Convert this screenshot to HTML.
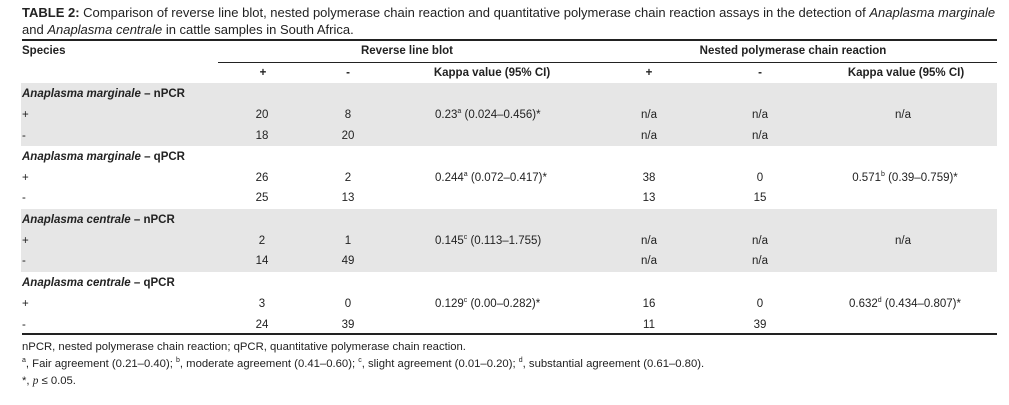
<!DOCTYPE html>
<html><head><meta charset="utf-8"><style>
body{margin:0;width:1009px;height:405px;background:#fff;position:relative;font-family:"Liberation Sans",sans-serif;color:#222;overflow:hidden}
.t{position:absolute;white-space:nowrap;font-size:11.5px;line-height:13px}
.c{transform:translateX(-50%)}
.b{font-weight:bold}
.band{position:absolute;left:21px;width:976px;background:#e6e6e6}
.ln{position:absolute;background:#222}
sup{font-size:7px;line-height:0}
</style></head><body>
<div class="t" style="left:22px;top:5px;font-size:13px;line-height:15px"><b>TABLE 2:</b> Comparison of reverse line blot, nested polymerase chain reaction and quantitative polymerase chain reaction assays in the detection of <i>Anaplasma marginale</i></div>
<div class="t" style="left:22px;top:22px;font-size:13px;line-height:15px">and <i>Anaplasma centrale</i> in cattle samples in South Africa.</div>
<div class="ln" style="left:22px;top:39px;width:975px;height:2px"></div>
<div class="t b" style="left:22px;top:45px">Species</div>
<div class="t b c" style="left:407px;top:45px">Reverse line blot</div>
<div class="t b c" style="left:793px;top:45px">Nested polymerase chain reaction</div>
<div class="ln" style="left:218px;top:62px;width:779px;height:1px"></div>
<div class="t b c" style="left:263px;top:67px">+</div>
<div class="t b c" style="left:348px;top:67px">-</div>
<div class="t b c" style="left:492px;top:67px">Kappa value (95% CI)</div>
<div class="t b c" style="left:649px;top:67px">+</div>
<div class="t b c" style="left:760px;top:67px">-</div>
<div class="t b c" style="left:906px;top:67px">Kappa value (95% CI)</div>

<div class="band" style="top:83px;height:63px"></div>
<div class="band" style="top:209px;height:63px"></div>

<div class="t b" style="left:22px;top:88px"><i>Anaplasma marginale</i> – nPCR</div>
<div class="t" style="left:22px;top:109px">+</div>
<div class="t c" style="left:262px;top:109px">20</div>
<div class="t c" style="left:348px;top:109px">8</div>
<div class="t" style="left:435px;top:109px">0.23<sup>a</sup> (0.024–0.456)*</div>
<div class="t c" style="left:649px;top:109px">n/a</div>
<div class="t c" style="left:760px;top:109px">n/a</div>
<div class="t c" style="left:903px;top:109px">n/a</div>
<div class="t" style="left:22px;top:130px">-</div>
<div class="t c" style="left:262px;top:130px">18</div>
<div class="t c" style="left:348px;top:130px">20</div>
<div class="t c" style="left:649px;top:130px">n/a</div>
<div class="t c" style="left:760px;top:130px">n/a</div>

<div class="t b" style="left:22px;top:151px"><i>Anaplasma marginale</i> – qPCR</div>
<div class="t" style="left:22px;top:172px">+</div>
<div class="t c" style="left:262px;top:172px">26</div>
<div class="t c" style="left:348px;top:172px">2</div>
<div class="t" style="left:435px;top:172px">0.244<sup>a</sup> (0.072–0.417)*</div>
<div class="t c" style="left:649px;top:172px">38</div>
<div class="t c" style="left:760px;top:172px">0</div>
<div class="t c" style="left:905px;top:172px">0.571<sup>b</sup> (0.39–0.759)*</div>
<div class="t" style="left:22px;top:192px">-</div>
<div class="t c" style="left:262px;top:192px">25</div>
<div class="t c" style="left:348px;top:192px">13</div>
<div class="t c" style="left:649px;top:192px">13</div>
<div class="t c" style="left:760px;top:192px">15</div>

<div class="t b" style="left:22px;top:214px"><i>Anaplasma centrale</i> – nPCR</div>
<div class="t" style="left:22px;top:235px">+</div>
<div class="t c" style="left:262px;top:235px">2</div>
<div class="t c" style="left:348px;top:235px">1</div>
<div class="t" style="left:435px;top:235px">0.145<sup>c</sup> (0.113–1.755)</div>
<div class="t c" style="left:649px;top:235px">n/a</div>
<div class="t c" style="left:760px;top:235px">n/a</div>
<div class="t c" style="left:903px;top:235px">n/a</div>
<div class="t" style="left:22px;top:255px">-</div>
<div class="t c" style="left:262px;top:255px">14</div>
<div class="t c" style="left:348px;top:255px">49</div>
<div class="t c" style="left:649px;top:255px">n/a</div>
<div class="t c" style="left:760px;top:255px">n/a</div>

<div class="t b" style="left:22px;top:277px"><i>Anaplasma centrale</i> – qPCR</div>
<div class="t" style="left:22px;top:298px">+</div>
<div class="t c" style="left:262px;top:298px">3</div>
<div class="t c" style="left:348px;top:298px">0</div>
<div class="t" style="left:435px;top:298px">0.129<sup>c</sup> (0.00–0.282)*</div>
<div class="t c" style="left:649px;top:298px">16</div>
<div class="t c" style="left:760px;top:298px">0</div>
<div class="t c" style="left:905px;top:298px">0.632<sup>d</sup> (0.434–0.807)*</div>
<div class="t" style="left:22px;top:319px">-</div>
<div class="t c" style="left:262px;top:319px">24</div>
<div class="t c" style="left:348px;top:319px">39</div>
<div class="t c" style="left:649px;top:319px">11</div>
<div class="t c" style="left:760px;top:319px">39</div>

<div class="ln" style="left:22px;top:333px;width:975px;height:2px"></div>
<div class="t" style="left:22px;top:341px;font-size:11.3px">nPCR, nested polymerase chain reaction; qPCR, quantitative polymerase chain reaction.</div>
<div class="t" style="left:22px;top:358px;font-size:11.3px"><sup>a</sup>, Fair agreement (0.21–0.40); <sup>b</sup>, moderate agreement (0.41–0.60); <sup>c</sup>, slight agreement (0.01–0.20); <sup>d</sup>, substantial agreement (0.61–0.80).</div>
<div class="t" style="left:22px;top:375px;font-size:11.3px">*, <i style="font-family:'Liberation Serif',serif">p</i> ≤ 0.05.</div>
</body></html>
